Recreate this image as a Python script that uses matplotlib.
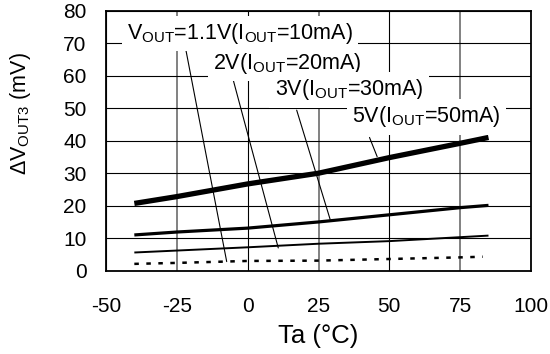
import matplotlib
matplotlib.use("Agg")
import matplotlib.pyplot as plt

plt.rcParams['font.family'] = ['Liberation Sans', 'DejaVu Sans']
plt.rcParams['mathtext.fontset'] = 'custom'
plt.rcParams['mathtext.rm'] = 'Liberation Sans'
plt.rcParams['mathtext.it'] = 'Liberation Sans:italic'
plt.rcParams['mathtext.bf'] = 'Liberation Sans:bold'
plt.rcParams['axes.unicode_minus'] = False

# ---- data ----
ta_5v = [-40, -25, 0, 25, 50, 75, 85]
dv_5v = [20.7, 22.8, 26.7, 30.0, 34.8, 39.2, 41.0]

ta_3v = [-40, -25, 0, 25, 50, 75, 85]
dv_3v = [11.0, 11.9, 13.1, 15.0, 17.2, 19.4, 20.1]

ta_2v = [-40, 0, 25, 50, 85]
dv_2v = [5.6, 7.2, 8.3, 9.1, 10.8]

ta_1v1 = [-40, -25, 0, 25, 50, 75, 83]
dv_1v1 = [2.1, 2.4, 3.0, 3.1, 3.6, 4.1, 4.3]

x_ticks = [-50, -25, 0, 25, 50, 75, 100]
y_ticks = [0, 10, 20, 30, 40, 50, 60, 70, 80]

labels = [r'V$_{\rm OUT}$=1.1V(I$_{\rm OUT}$=10mA)',
          r'2V(I$_{\rm OUT}$=20mA)',
          r'3V(I$_{\rm OUT}$=30mA)',
          r'5V(I$_{\rm OUT}$=50mA)']
label_pos = [(-42.6, 73.0), (-12.2, 63.8), (9.6, 55.6), (36.8, 47.4)]
leader_start = [(-21.8, 67.9), (-5.1, 58.7), (17.3, 49.4), (43.0, 41.0)]
leader_end = [(-7.4, 2.8), (10.8, 7.0), (29.1, 15.8), (45.7, 35.1)]

fig = plt.figure(figsize=(5.5, 3.54), dpi=100)
ax = fig.add_axes([106/550, 1-270.7/354, (531-106)/550, (270.7-10.7)/354])

ax.set_xlim(-50, 100)
ax.set_ylim(0, 80)
ax.set_xticks(x_ticks)
ax.set_yticks(y_ticks)
ax.tick_params(axis='both', length=0, labelsize=15)
ax.tick_params(axis='x', pad=19)
ax.tick_params(axis='y', pad=14)

ax.grid(True, color='black', linewidth=0.8, zorder=1)
ax.set_axisbelow(True)
for gl, v in zip(ax.get_xgridlines(), x_ticks):
    if v in (-25, 25, 75):
        gl.set_color('#777777')
        gl.set_linewidth(1.3)

for s in ax.spines.values():
    s.set_linewidth(1.3)
    s.set_color('black')

ax.plot(ta_5v, dv_5v, color='black', lw=3.8, solid_capstyle='butt', zorder=3)
ax.plot(ta_3v, dv_3v, color='black', lw=2.3, solid_capstyle='butt', zorder=3)
ax.plot(ta_2v, dv_2v, color='black', lw=1.4, solid_capstyle='butt', zorder=3)
ax.plot(ta_1v1, dv_1v1, color='black', lw=1.8, linestyle=(0, (1.8, 3.0)),
        dash_capstyle='butt', zorder=3)

for (xs, ys), (xe, ye) in zip(leader_start, leader_end):
    ax.annotate('', xy=(xe, ye), xytext=(xs, ys),
                arrowprops=dict(arrowstyle='-', color='black', lw=0.8,
                                shrinkA=0, shrinkB=0), zorder=2)

for txt, (x, y) in zip(labels, label_pos):
    ax.text(x, y, txt, fontsize=15.5, ha='left', va='center', zorder=4,
            bbox=dict(boxstyle='square,pad=0.25', facecolor='white',
                      edgecolor='none'))

ax.set_xlabel('Ta (°C)', fontsize=18.5, labelpad=6)
ax.set_ylabel(r'$\Delta$V$_{\rm OUT3}$ (mV)', fontsize=15.5)
ax.yaxis.set_label_coords(-0.172, 0.603)

fig.savefig('out.png', dpi=100)
